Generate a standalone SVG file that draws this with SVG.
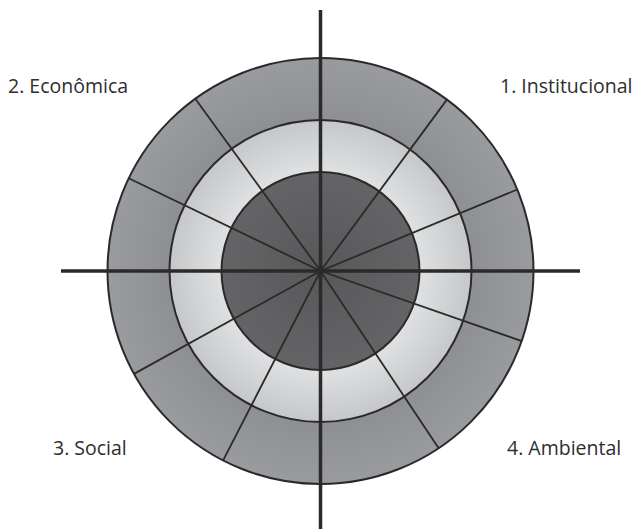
<svg xmlns="http://www.w3.org/2000/svg" width="637" height="529" viewBox="0 0 637 529">
  <style>
    .ring { stroke: #2a2a2a; stroke-width: 2; }
    .radial { stroke: #2a2a2a; stroke-width: 1.8; fill: none; }
    .axis { stroke: #2a2a2a; stroke-width: 3.5; fill: none; }
    .label { font-family: "Open Sans", "Liberation Sans", sans-serif; font-size: 19.5px; fill: #2e2e2e; }
  </style>
  <defs>
    <radialGradient id="gOuter" cx="320.5" cy="271" r="213" gradientUnits="userSpaceOnUse">
      <stop offset="0.7" stop-color="#8e8f92"/>
      <stop offset="1" stop-color="#9a9b9e"/>
    </radialGradient>
    <radialGradient id="gMid" cx="320.5" cy="271" r="151" gradientUnits="userSpaceOnUse">
      <stop offset="0.65" stop-color="#e0e1e2"/>
      <stop offset="1" stop-color="#c6c7c9"/>
    </radialGradient>
    <radialGradient id="gInner" cx="320.5" cy="271" r="99" gradientUnits="userSpaceOnUse">
      <stop offset="0" stop-color="#58585a"/>
      <stop offset="1" stop-color="#646466"/>
    </radialGradient>
  </defs>
  <g id="outer-ring"><circle class="ring" cx="320.5" cy="271" r="213" fill="url(#gOuter)"/></g>
  <g id="middle-ring"><circle class="ring" cx="320.5" cy="271" r="151" fill="url(#gMid)"/></g>
  <g id="inner-circle"><circle class="ring" cx="320.5" cy="271" r="99" fill="url(#gInner)"/></g>
  <g id="connectors">
    <line class="radial" x1="320.5" y1="271" x2="446.9" y2="99.6"/>
    <line class="radial" x1="320.5" y1="271" x2="517.3" y2="189.5"/>
    <line class="radial" x1="320.5" y1="271" x2="195.3" y2="98.7"/>
    <line class="radial" x1="320.5" y1="271" x2="128.7" y2="178.3"/>
    <line class="radial" x1="320.5" y1="271" x2="134.0" y2="373.9"/>
    <line class="radial" x1="320.5" y1="271" x2="223.1" y2="460.4"/>
    <line class="radial" x1="320.5" y1="271" x2="438.7" y2="448.2"/>
    <line class="radial" x1="320.5" y1="271" x2="521.7" y2="341.1"/>
    <line class="axis" x1="320.5" y1="10" x2="320.5" y2="529"/>
    <line class="axis" x1="61" y1="271" x2="580" y2="271"/>
  </g>
  <g id="label-1"><text class="label" x="500" y="93">1. Institucional</text></g>
  <g id="label-2"><text class="label" x="8" y="93">2. Econômica</text></g>
  <g id="label-3"><text class="label" x="53" y="455">3. Social</text></g>
  <g id="label-4"><text class="label" x="507" y="455">4. Ambiental</text></g>
</svg>
